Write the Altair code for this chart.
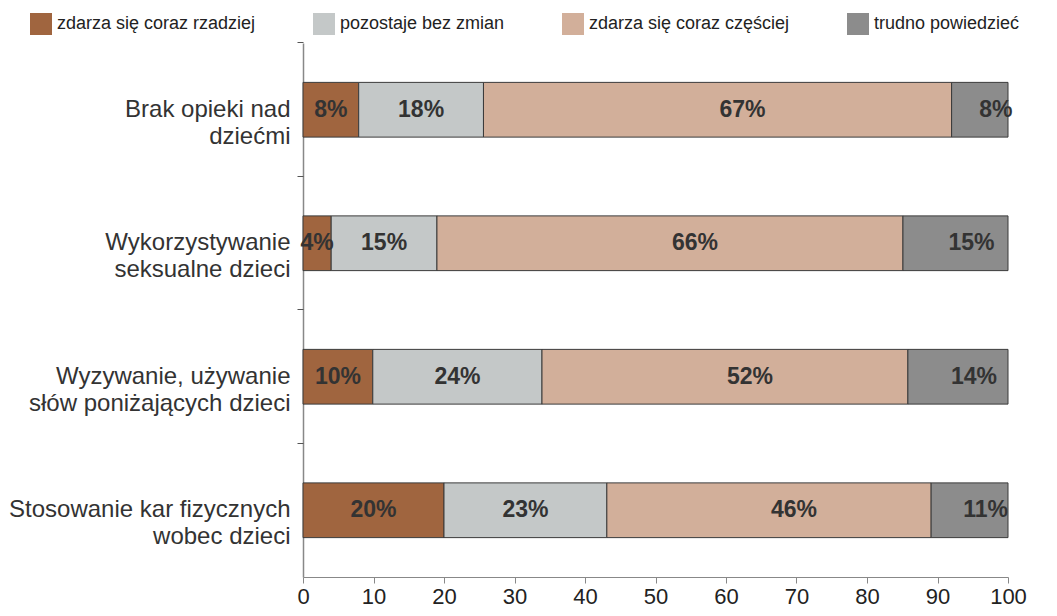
import altair as alt
import pandas as pd

categories = [
    "Brak opieki nad\ndziećmi",
    "Wykorzystywanie\nseksualne dzieci",
    "Wyzywanie, używanie\nsłów poniżających dzieci",
    "Stosowanie kar fizycznych\nwobec dzieci",
]
series = [
    "zdarza się coraz rzadziej",
    "pozostaje bez zmian",
    "zdarza się coraz częściej",
    "trudno powiedzieć",
]
colors = ["#A0653F", "#C4C8C8", "#D2AF9A", "#8C8C8C"]

# segment widths (percent of respondents)
val_rzadziej = [7.9, 4.0, 9.9, 20.0]
val_bez_zmian = [17.7, 15.0, 24.0, 23.1]
val_czesciej = [66.4, 66.1, 51.9, 46.0]
val_trudno = [8.0, 14.9, 14.2, 10.9]

# printed labels
lab_rzadziej = [8, 4, 10, 20]
lab_bez_zmian = [18, 15, 24, 23]
lab_czesciej = [67, 66, 52, 46]
lab_trudno = [8, 15, 14, 11]

x_ticks = list(range(0, 101, 10))

values = [val_rzadziej, val_bez_zmian, val_czesciej, val_trudno]
labels = [lab_rzadziej, lab_bez_zmian, lab_czesciej, lab_trudno]

rows = []
for si, s in enumerate(series):
    for ci, c in enumerate(categories):
        rows.append({
            "category": c,
            "series": s,
            "order": si,
            "value": values[si][ci],
            "lab": f"{labels[si][ci]}%",
        })
df = pd.DataFrame(rows)

FONT = "Liberation Sans"

base = alt.Chart(df).transform_stack(
    stack="value", groupby=["category"], as_=["x0", "x1"],
    sort=[alt.SortField("order", order="ascending")],
)

y_scale = alt.Scale(paddingInner=0.59, paddingOuter=0.295)

bars = base.mark_bar(stroke="#3a3a3a", strokeWidth=1).encode(
    x=alt.X("x0:Q", scale=alt.Scale(domain=[0, 100], nice=False),
            axis=alt.Axis(values=x_ticks, title=None, grid=False,
                          labelFontSize=22, labelFont=FONT, labelColor="#222222",
                          tickSize=6, tickColor="#888888", domainColor="#888888",
                          labelPadding=3, labelFlush=False)),
    x2="x1:Q",
    y=alt.Y("category:N", sort=categories, scale=y_scale,
            axis=alt.Axis(title=None, ticks=False, labelExpr="split(datum.label, '\\n')",
                          labelFontSize=24, labelFont=FONT, labelColor="#333333",
                          labelLineHeight=27, labelPadding=13, labelLimit=500,
                          domainColor="#888888", domainWidth=1.5)),
    color=alt.Color("series:N", sort=series,
                    scale=alt.Scale(domain=series, range=colors),
                    legend=alt.Legend(title=None, orient="none", legendX=-273, legendY=-30,
                                      direction="horizontal", symbolType="square",
                                      symbolSize=484, symbolStrokeWidth=0,
                                      labelFontSize=18, labelFont=FONT,
                                      labelColor="#222222", columnPadding=57,
                                      labelOffset=5, labelLimit=500, padding=0)),
    order=alt.Order("order:Q"),
)

dxs = [0, 0, 25, 16]
texts = []
for i, s in enumerate(series):
    if i == 0:
        yax = alt.Axis(orient="left", title=None, labels=False, domain=False,
                       ticks=True, tickSize=6, tickColor="#555555", bandPosition=-0.72)
    else:
        yax = None
    t = base.transform_calculate(mid="(datum.x0 + datum.x1) / 2").transform_filter(
        alt.datum.series == s
    ).mark_text(dx=dxs[i], font=FONT, fontWeight="bold", fontSize=23,
                color="#333333").encode(
        x=alt.X("mid:Q"),
        y=alt.Y("category:N", sort=categories, scale=y_scale, axis=yax),
        text="lab:N",
    )
    texts.append(t)

chart = alt.layer(bars, *texts).resolve_axis(y="independent").properties(
    width=705, height=534,
    autosize=alt.AutoSizeParams(type="none"),
    padding={"left": 295, "top": 35, "right": 40, "bottom": 36},
).configure_view(stroke=None)

chart.save("out.html", embed_options={"renderer": "svg", "actions": False})
